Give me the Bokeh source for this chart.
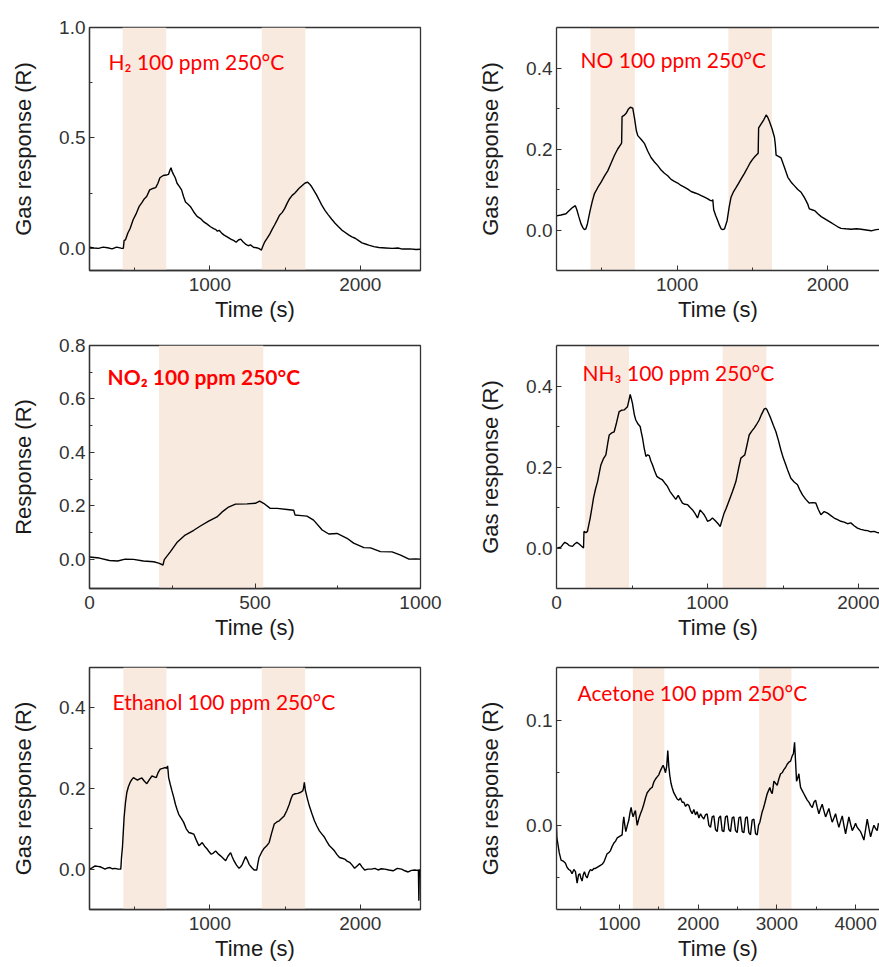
from bokeh.plotting import figure
from bokeh.models import (FixedTicker, PrintfTickFormatter, BoxAnnotation, Label,
                          LinearAxis, Range1d)
from bokeh.layouts import gridplot
from bokeh.embed import file_html
from bokeh.resources import INLINE

# ---------------- data ----------------
t_h2 = [200, 230, 260, 290, 320, 350, 380, 410, 425, 430, 440, 455, 470, 490, 512, 530, 546, 565, 580, 600,
        615, 640, 655, 668, 690, 710, 725, 735, 742, 748, 758, 770, 782, 798, 812, 825, 838, 855, 870, 893,
        915, 938, 960, 982, 1004, 1025, 1040, 1050, 1062, 1080, 1095, 1115, 1139, 1160, 1175, 1190, 1205,
        1220, 1240, 1255, 1270, 1290, 1310, 1325, 1335, 1342, 1352, 1365, 1380, 1396, 1413, 1430, 1447,
        1463, 1480, 1497, 1514, 1530, 1547, 1564, 1580, 1597, 1614, 1631, 1649, 1662, 1676, 1692, 1709,
        1726, 1743, 1765, 1787, 1810, 1832, 1855, 1877, 1900, 1922, 1944, 1966, 1989, 2011, 2034, 2056,
        2090, 2123, 2168, 2212, 2250, 2280, 2330, 2370, 2400]
r_h2 = [0.005, 0.002, 0.0, 0.006, 0.003, -0.002, 0.006, 0.001, 0.0, 0.035, 0.04, 0.07, 0.09, 0.13, 0.16,
        0.19, 0.205, 0.225, 0.235, 0.265, 0.27, 0.275, 0.295, 0.32, 0.33, 0.332, 0.335, 0.355, 0.365, 0.35,
        0.335, 0.32, 0.295, 0.28, 0.265, 0.235, 0.21, 0.2, 0.19, 0.165, 0.145, 0.135, 0.12, 0.11, 0.098,
        0.09, 0.085, 0.078, 0.082, 0.068, 0.06, 0.052, 0.042, 0.035, 0.028, 0.038, 0.042, 0.03, 0.018,
        0.012, 0.016, 0.005, 0.003, 0.0, -0.004, -0.008, 0.01, 0.03, 0.045, 0.062, 0.085, 0.106, 0.128,
        0.15, 0.162, 0.18, 0.205, 0.225, 0.24, 0.25, 0.262, 0.275, 0.285, 0.295, 0.3, 0.292, 0.28, 0.262,
        0.242, 0.22, 0.197, 0.172, 0.152, 0.132, 0.114, 0.098, 0.083, 0.072, 0.061, 0.052, 0.046, 0.035,
        0.025, 0.02, 0.015, 0.008, 0.004, 0.002, 0.0, 0.002, -0.003, -0.002, -0.005, -0.004]
on_h2 = [(420, 710), (1345, 1635)]

t_no = [200, 230, 263, 285, 308, 325, 335, 348, 363, 375, 385, 395, 405, 423, 437, 451, 474, 496, 518, 540,
        562, 584, 606, 628, 632, 635, 648, 662, 676, 690, 706, 718, 730, 739, 761, 783, 805, 827, 850, 872,
        894, 916, 938, 960, 982, 1004, 1026, 1048, 1071, 1093, 1115, 1137, 1160, 1182, 1204, 1220, 1232,
        1237, 1243, 1256, 1270, 1281, 1292, 1303, 1315, 1332, 1345, 1358, 1375, 1392, 1408, 1425, 1447,
        1469, 1485, 1502, 1518, 1535, 1538, 1541, 1558, 1575, 1591, 1602, 1613, 1630, 1646, 1652, 1657,
        1673, 1690, 1712, 1735, 1757, 1779, 1801, 1823, 1845, 1867, 1872, 1878, 1895, 1912, 1934, 1956,
        1978, 2000, 2022, 2044, 2066, 2088, 2120, 2155, 2190, 2221, 2255, 2288, 2320, 2350, 2400]
r_no = [0.035, 0.037, 0.04, 0.048, 0.056, 0.06, 0.05, 0.033, 0.015, 0.006, 0.001, 0.003, 0.015, 0.048, 0.07,
        0.089, 0.105, 0.118, 0.133, 0.146, 0.165, 0.184, 0.2, 0.212, 0.215, 0.28, 0.283, 0.288, 0.298,
        0.303, 0.301, 0.275, 0.245, 0.233, 0.224, 0.214, 0.195, 0.179, 0.168, 0.159, 0.148, 0.14, 0.134,
        0.125, 0.12, 0.116, 0.11, 0.106, 0.101, 0.095, 0.092, 0.089, 0.085, 0.081, 0.077, 0.073, 0.072,
        0.075, 0.05, 0.036, 0.023, 0.012, 0.003, 0.001, 0.003, 0.023, 0.055, 0.081, 0.095, 0.105, 0.115,
        0.126, 0.14, 0.155, 0.166, 0.175, 0.182, 0.188, 0.19, 0.252, 0.262, 0.272, 0.284, 0.278, 0.268,
        0.25, 0.229, 0.21, 0.185, 0.182, 0.178, 0.155, 0.13, 0.118, 0.109, 0.1, 0.093, 0.08, 0.064, 0.058,
        0.052, 0.05, 0.048, 0.04, 0.033, 0.028, 0.023, 0.018, 0.013, 0.008, 0.004, 0.003, 0.002, 0.003,
        0.002, 0.0, -0.002, 0.001, 0.002, 0.0]
on_no = [(425, 720), (1340, 1630)]

t_no2 = [0, 30, 60, 85, 108, 133, 163, 194, 209, 222, 226, 244, 264, 289, 315, 335, 360, 385, 400, 420, 441,
         476, 501, 514, 526, 546, 567, 597, 617, 621, 640, 657, 677, 703, 723, 748, 778, 798, 829, 849, 879,
         914, 940, 965, 985, 1000]
r_no2 = [0.008, 0.004, -0.005, -0.007, 0.0, -0.001, -0.007, -0.01, -0.015, -0.022, -0.002, 0.027, 0.062,
         0.09, 0.108, 0.124, 0.142, 0.158, 0.176, 0.195, 0.206, 0.207, 0.209, 0.217, 0.209, 0.19, 0.19,
         0.186, 0.183, 0.165, 0.163, 0.161, 0.146, 0.109, 0.094, 0.096, 0.078, 0.06, 0.043, 0.042, 0.028,
         0.027, 0.015, 0.0, 0.001, 0.0]
on_no2 = [(210, 525)]

t_nh3 = [5, 29, 45, 55, 70, 84, 106, 120, 135, 150, 161, 179, 182, 195, 205, 223, 235, 245, 258, 272, 283,
         294, 310, 327, 340, 349, 365, 382, 398, 415, 430, 448, 470, 480, 488, 496, 503, 515, 525, 540, 554,
         562, 570, 580, 592, 603, 614, 625, 636, 650, 664, 683, 702, 718, 735, 751, 768, 790, 806, 820, 834,
         850, 868, 885, 901, 918, 934, 951, 965, 978, 990, 1000, 1015, 1033, 1045, 1055, 1070, 1084, 1097,
         1110, 1124, 1137, 1152, 1166, 1177, 1188, 1205, 1221, 1234, 1247, 1262, 1276, 1292, 1309, 1325,
         1342, 1358, 1375, 1385, 1393, 1405, 1419, 1436, 1453, 1470, 1486, 1502, 1519, 1535, 1552, 1574,
         1596, 1612, 1629, 1651, 1673, 1695, 1717, 1734, 1751, 1773, 1795, 1817, 1839, 1861, 1883, 1905,
         1927, 1949, 1971, 1993, 2015, 2037, 2060, 2082, 2104, 2125, 2145]
r_nh3 = [0.0, 0.002, 0.01, 0.014, 0.011, 0.006, 0.004, 0.01, 0.014, 0.01, 0.006, 0.0, 0.041, 0.038, 0.041,
         0.074, 0.1, 0.123, 0.145, 0.164, 0.185, 0.205, 0.22, 0.23, 0.26, 0.279, 0.284, 0.287, 0.31, 0.337,
         0.34, 0.341, 0.349, 0.365, 0.379, 0.368, 0.357, 0.33, 0.316, 0.306, 0.3, 0.285, 0.271, 0.248,
         0.226, 0.23, 0.228, 0.215, 0.205, 0.19, 0.177, 0.172, 0.168, 0.16, 0.152, 0.14, 0.131, 0.12, 0.13,
         0.12, 0.111, 0.108, 0.107, 0.1, 0.094, 0.085, 0.074, 0.094, 0.088, 0.082, 0.074, 0.066, 0.068,
         0.074, 0.07, 0.066, 0.06, 0.053, 0.07, 0.086, 0.098, 0.111, 0.126, 0.14, 0.152, 0.164, 0.195,
         0.222, 0.226, 0.23, 0.255, 0.279, 0.288, 0.296, 0.305, 0.316, 0.33, 0.343, 0.345, 0.342, 0.332,
         0.32, 0.303, 0.287, 0.265, 0.242, 0.222, 0.205, 0.188, 0.172, 0.163, 0.156, 0.143, 0.131, 0.12,
         0.111, 0.112, 0.111, 0.095, 0.082, 0.09, 0.086, 0.08, 0.074, 0.07, 0.066, 0.064, 0.06, 0.062,
         0.055, 0.049, 0.046, 0.044, 0.043, 0.04, 0.041, 0.038, 0.037]
on_nh3 = [(190, 480), (1100, 1390)]

t_eth = [200, 220, 237, 254, 270, 287, 303, 320, 336, 353, 370, 390, 408, 413, 419, 425, 430, 439, 448, 459,
         470, 481, 492, 505, 519, 533, 548, 565, 581, 598, 615, 630, 644, 657, 670, 687, 704, 712, 719, 722,
         726, 737, 748, 760, 771, 782, 793, 810, 826, 843, 860, 877, 893, 910, 927, 938, 949, 965, 982, 995,
         1009, 1023, 1038, 1055, 1071, 1088, 1105, 1120, 1138, 1149, 1160, 1177, 1194, 1205, 1216, 1227,
         1238, 1250, 1261, 1278, 1294, 1312, 1318, 1327, 1344, 1361, 1378, 1394, 1411, 1428, 1445, 1461,
         1478, 1494, 1511, 1528, 1540, 1550, 1567, 1584, 1600, 1617, 1622, 1628, 1635, 1648, 1661, 1678,
         1695, 1711, 1728, 1745, 1762, 1778, 1795, 1812, 1829, 1845, 1862, 1879, 1896, 1912, 1929, 1946,
         1962, 1979, 1996, 2012, 2029, 2051, 2074, 2096, 2118, 2140, 2163, 2190, 2218, 2246, 2274, 2296,
         2318, 2340, 2363, 2380, 2386, 2389, 2391, 2393]
r_eth = [0.0, 0.004, 0.008, 0.007, 0.006, 0.003, 0.0, 0.003, 0.004, 0.001, 0.002, 0.0, 0.0, 0.03, 0.054,
         0.095, 0.128, 0.165, 0.19, 0.205, 0.215, 0.222, 0.227, 0.224, 0.221, 0.224, 0.226, 0.218, 0.212,
         0.222, 0.231, 0.229, 0.227, 0.24, 0.248, 0.25, 0.252, 0.25, 0.256, 0.245, 0.227, 0.21, 0.194,
         0.178, 0.161, 0.148, 0.136, 0.126, 0.116, 0.1, 0.091, 0.089, 0.087, 0.072, 0.058, 0.062, 0.066,
         0.057, 0.05, 0.043, 0.037, 0.04, 0.045, 0.038, 0.033, 0.027, 0.021, 0.032, 0.041, 0.03, 0.021,
         0.01, 0.002, 0.006, 0.012, 0.022, 0.031, 0.022, 0.012, 0.004, -0.002, -0.002, 0.012, 0.029, 0.042,
         0.052, 0.058, 0.066, 0.09, 0.112, 0.117, 0.12, 0.126, 0.132, 0.145, 0.161, 0.175, 0.184, 0.187,
         0.188, 0.19, 0.194, 0.2, 0.215, 0.195, 0.175, 0.157, 0.138, 0.12, 0.107, 0.095, 0.087, 0.079,
         0.068, 0.058, 0.052, 0.045, 0.036, 0.029, 0.027, 0.025, 0.02, 0.017, 0.01, 0.002, 0.008, 0.014,
         0.005, -0.002, 0.0, 0.0, 0.002, -0.002, 0.001, 0.0, -0.002, -0.004, 0.002, 0.0, -0.004, -0.007,
         -0.003, -0.002, -0.003, -0.002, -0.078, -0.03, 0.0]
on_eth = [(425, 712), (1345, 1633)]

t_ace = [200, 205, 216, 235, 258, 285, 314, 335, 356, 378, 398, 420, 441, 462, 480, 496, 510, 525, 540, 555,
         572, 589, 610, 631, 652, 674, 695, 716, 737, 758, 780, 801, 822, 843, 865, 886, 907, 928, 950, 971,
         992, 1013, 1034, 1045, 1055, 1068, 1081, 1100, 1119, 1134, 1148, 1160, 1174, 1190, 1203, 1215,
         1225, 1245, 1267, 1288, 1309, 1330, 1352, 1373, 1394, 1415, 1436, 1458, 1479, 1500, 1521, 1540,
         1555, 1570, 1585, 1600, 1614, 1627, 1640, 1655, 1669, 1690, 1712, 1733, 1754, 1775, 1797, 1818,
         1840, 1861, 1881, 1903, 1924, 1945, 1966, 1987, 2009, 2030, 2051, 2072, 2093, 2114, 2136, 2157,
         2178, 2199, 2220, 2242, 2263, 2284, 2305, 2326, 2347, 2369, 2390, 2411, 2432, 2453, 2475, 2496,
         2517, 2538, 2560, 2581, 2602, 2623, 2644, 2665, 2686, 2708, 2729, 2750, 2767, 2784, 2799, 2814,
         2828, 2843, 2860, 2877, 2894, 2911, 2926, 2941, 2952, 2962, 2983, 3004, 3025, 3047, 3068, 3089,
         3110, 3131, 3152, 3174, 3195, 3210, 3225, 3238, 3250, 3265, 3280, 3290, 3301, 3322, 3343, 3364,
         3386, 3407, 3428, 3450, 3471, 3492, 3513, 3534, 3555, 3576, 3597, 3619, 3640, 3661, 3682, 3703,
         3725, 3746, 3767, 3788, 3810, 3831, 3852, 3873, 3894, 3915, 3937, 3958, 3979, 4000, 4021, 4042,
         4064, 4085, 4106, 4127, 4148, 4170, 4191, 4212, 4233, 4254, 4275, 4291]
r_ace = [0.0, -0.012, -0.017, -0.026, -0.033, -0.034, -0.036, -0.04, -0.042, -0.043, -0.046, -0.042,
         -0.044, -0.055, -0.047, -0.046, -0.05, -0.053, -0.047, -0.044, -0.048, -0.05, -0.045, -0.042,
         -0.043, -0.041, -0.041, -0.04, -0.039, -0.038, -0.037, -0.035, -0.031, -0.027, -0.026, -0.024,
         -0.02, -0.017, -0.015, -0.012, -0.011, -0.01, -0.009, 0.002, 0.008, 0.0, -0.006, 0.0, 0.005, 0.012,
         0.017, 0.012, 0.008, 0.012, 0.014, 0.006, 0.0, 0.006, 0.011, 0.015, 0.02, 0.026, 0.031, 0.033,
         0.035, 0.036, 0.041, 0.044, 0.046, 0.048, 0.052, 0.055, 0.057, 0.054, 0.05, 0.056, 0.071, 0.056,
         0.047, 0.04, 0.036, 0.031, 0.028, 0.025, 0.024, 0.026, 0.022, 0.022, 0.018, 0.02, 0.019, 0.014,
         0.011, 0.015, 0.01, 0.013, 0.007, 0.011, 0.008, 0.006, 0.01, 0.011, 0.0, -0.002, 0.008, 0.009,
         -0.004, -0.006, 0.007, 0.009, -0.005, -0.006, 0.008, 0.009, -0.004, -0.006, 0.007, 0.008, -0.005,
         -0.007, 0.007, 0.008, -0.006, -0.007, 0.007, 0.008, -0.007, -0.009, 0.005, 0.006, -0.008, -0.009,
         0.0, 0.003, 0.008, 0.013, 0.016, 0.02, 0.025, 0.03, 0.033, 0.036, 0.032, 0.03, 0.036, 0.042, 0.04,
         0.038, 0.044, 0.049, 0.05, 0.053, 0.055, 0.058, 0.06, 0.061, 0.066, 0.068, 0.079, 0.06, 0.042,
         0.045, 0.049, 0.042, 0.036, 0.033, 0.03, 0.027, 0.024, 0.022, 0.019, 0.017, 0.022, 0.024, 0.017,
         0.011, 0.016, 0.02, 0.014, 0.008, 0.012, 0.016, 0.009, 0.003, 0.007, 0.011, 0.004, -0.002, 0.004,
         0.009, 0.0, -0.008, 0.0, 0.008, 0.001, -0.005, -0.002, 0.002, -0.002, -0.004, -0.006, -0.01,
         -0.014, -0.004, 0.006, -0.003, -0.011, -0.005, 0.0, -0.003, -0.005, 0.002]
on_ace = [(1170, 1570), (2775, 3185)]

# ---------------- styling ----------------
SHADE = "#f9eae0"
AX = "#333333"
TICKF = "Liberation Sans"
LEFT_W, RIGHT_W = 475, 404
MB_L_LEFT, MB_L_RIGHT = 89, 81
FRAME_W_LEFT = 331


def panel(t, r, on, xr, yr, xt, xm, yt, ym, ylab, title, bold, tdx, tbase,
          col, row_h, mbt, mbb, frame_h):
    right_col = col == 1
    p = figure(width=RIGHT_W if right_col else LEFT_W, height=row_h,
               x_range=Range1d(*xr), y_range=Range1d(*yr),
               output_backend="svg", toolbar_location=None,
               min_border_left=MB_L_RIGHT if right_col else MB_L_LEFT,
               min_border_right=0 if right_col else LEFT_W - MB_L_LEFT - FRAME_W_LEFT,
               min_border_top=mbt, min_border_bottom=mbb,
               background_fill_color="white", border_fill_color="white")
    p.xgrid.visible = False
    p.ygrid.visible = False
    for a, b in on:
        p.add_layout(BoxAnnotation(left=a, right=b, fill_color=SHADE, fill_alpha=1.0,
                                   line_color=None, level="underlay"))
    p.line(t, r, line_color="black", line_width=1.4)

    xa, ya = p.xaxis[0], p.yaxis[0]
    xa.ticker = FixedTicker(ticks=xt, minor_ticks=xm)
    ya.ticker = FixedTicker(ticks=yt, minor_ticks=ym)
    xa.formatter = PrintfTickFormatter(format="%d")
    ya.formatter = PrintfTickFormatter(format="%.1f")
    for ax in (xa, ya):
        ax.axis_line_color = AX
        ax.axis_line_width = 1.3
        ax.major_tick_line_color = AX
        ax.minor_tick_line_color = AX
        ax.major_tick_in = 5
        ax.major_tick_out = 0
        ax.minor_tick_in = 3
        ax.minor_tick_out = 0
        ax.major_label_text_font = TICKF
        ax.major_label_text_font_size = "19px"
        ax.major_label_text_color = "#333333"
        ax.axis_label_text_font = TICKF
        ax.axis_label_text_font_size = "22px"
        ax.axis_label_text_font_style = "normal"
        ax.axis_label_text_color = "#1a1a1a"
    xa.axis_label = "Time (s)"
    ya.axis_label = ylab
    xa.major_label_standoff = 7
    xa.axis_label_standoff = 3
    ya.major_label_standoff = 4
    ya.axis_label_standoff = 20

    if right_col:
        p.outline_line_color = None
        top = LinearAxis(ticker=FixedTicker(ticks=[]), axis_line_color=AX, axis_line_width=1.3,
                         major_tick_line_color=None, minor_tick_line_color=None,
                         major_label_text_font_size="0px", major_label_standoff=0)
        p.add_layout(top, "above")
    else:
        p.outline_line_color = AX
        p.outline_line_width = 1.3
        p.outline_line_alpha = 1.0

    p.add_layout(Label(x=tdx, y=frame_h - tbase, x_units="screen", y_units="screen",
                       text=title, text_color="#ff0000", text_font="Lato",
                       text_font_size="21px", text_font_style="bold" if bold else "normal",
                       text_baseline="alphabetic", text_align="left"))
    return p


p1 = panel(t_h2, r_h2, on_h2, (200, 2400), (-0.1, 1.0), [1000, 2000], [500, 1500],
           [0.0, 0.5, 1.0], [0.25, 0.75], "Gas response (R)", "H\u2082 100 ppm 250\u00b0C", False,
           19, 34, 0, 328, 27, 58, 243)
p2 = panel(t_no, r_no, on_no, (200, 2343), (-0.1, 0.5), [1000, 2000], [500, 1500],
           [0.0, 0.2, 0.4], [0.1, 0.3], "Gas response (R)", "NO 100 ppm 250\u00b0C", False,
           24, 32, 1, 328, 27, 58, 243)
p3 = panel(t_no2, r_no2, on_no2, (0, 1000), (-0.11, 0.8), [0, 500, 1000], [250, 750],
           [0.0, 0.2, 0.4, 0.6, 0.8], [0.1, 0.3, 0.5, 0.7], "Response (R)",
           "NO\u2082 100 ppm 250\u00b0C", True, 18, 31, 0, 320, 17, 60, 243)
p4 = panel(t_nh3, r_nh3, on_nh3, (0, 2139), (-0.1, 0.5), [0, 1000, 2000], [500, 1500],
           [0.0, 0.2, 0.4], [0.1, 0.3], "Gas response (R)", "NH\u2083 100 ppm 250\u00b0C", False,
           26, 27, 1, 320, 17, 60, 243)
p5 = panel(t_eth, r_eth, on_eth, (200, 2400), (-0.1, 0.5), [1000, 2000], [500, 1500],
           [0.0, 0.2, 0.4], [0.1, 0.3], "Gas response (R)", "Ethanol 100 ppm 250\u00b0C", False,
           23, 34, 0, 319, 19, 58, 242)
p6 = panel(t_ace, r_ace, on_ace, (200, 4304), (-0.08, 0.15), [1000, 2000, 3000, 4000],
           [500, 1500, 2500, 3500], [0.0, 0.1], [-0.05, 0.05], "Gas response (R)",
           "Acetone 100 ppm 250\u00b0C", False, 21, 25, 1, 319, 19, 58, 242)

grid = gridplot([[p1, p2], [p3, p4], [p5, p6]], toolbar_location=None)

open("out.html", "w").write(file_html(grid, INLINE))
